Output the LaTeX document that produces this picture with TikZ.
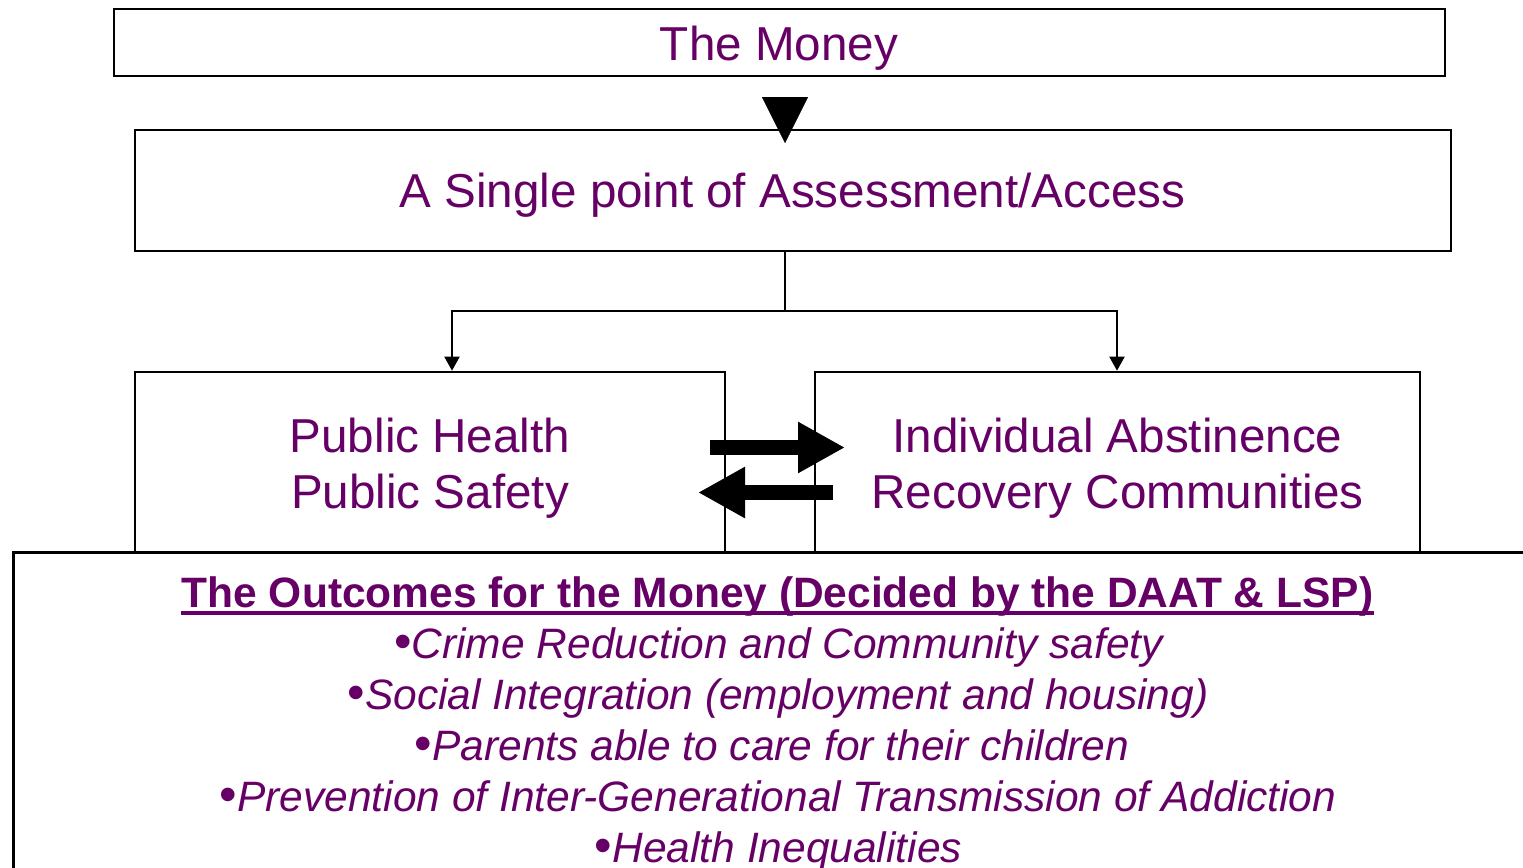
\documentclass[tikz,border=0pt]{standalone}
\usepackage{fontspec}
\setmainfont{Liberation Sans}
\usetikzlibrary{arrows.meta}
\definecolor{plum}{HTML}{660066}
\newcommand{\bul}{{\upshape\fontsize{25}{25.5}\selectfont •}}
\tikzset{
  box/.style={draw=black, line width=1.3pt, fill=white, rectangle, inner sep=0pt},
  bigtxt/.style={text=plum, inner sep=0pt, anchor=base, font=\fontsize{23.8}{28.5}\selectfont},
  outtxt/.style={text=plum, inner sep=0pt, anchor=base, font=\fontsize{21.25}{25.5}\selectfont\itshape},
  conn/.style={draw=black, line width=1pt, -{Triangle[length=7pt,width=7.5pt]}},
  blockarrow/.style={draw=black, line width=7.5pt, -{Triangle[length=23.5pt,width=24pt]}},
}
\begin{document}
\begin{tikzpicture}[x=0.5pt,y=-0.5pt]
\useasboundingbox (0,0) rectangle (1523,868);
\clip (0,0) rectangle (1523,868);
\fill[white] (0,0) rectangle (1523,868);

% boxes
\node[box, minimum width=665.5pt, minimum height=33.5pt] (money) at (779.5,42.5) {};
\node[box, minimum width=658pt, minimum height=60.5pt] (access) at (793,190.5) {};
\node[box, minimum width=295pt, minimum height=90pt] (left) at (430,462) {};
\node[box, minimum width=302.5pt, minimum height=90pt] (right) at (1117.5,462) {};

% texts in upper boxes
\node[bigtxt] (tmoney) at (779,60) {The Money};
\node[bigtxt] (taccess) at (792.5,207) {A Single point of Assessment/Access};
\node[bigtxt] (tph) at (430,452) {Public Health};
\node[bigtxt] (tps) at (430,508) {Public Safety};
\node[bigtxt] (tia) at (1117.5,452) {Individual Abstinence};
\node[bigtxt] (trc) at (1117.5,508) {Recovery Communities};

% big triangle arrow from The Money to the access box
\coordinate (tip) at (785,143);
\draw[draw=black, line width=0.1pt, -{Triangle[length=23pt,width=23pt]}, shorten <=10.5pt]
  (money.south -| tip) -- (tip);

% split connector
\coordinate (split) at (785,311);
\draw[line width=1pt] (access.south -| split) -- (split);
\draw[conn] (split) -| (left.north -| 452,0);
\draw[conn] (split) -| (right.north -| 1117,0);

% block arrows between the two boxes
\coordinate (ra0) at (710,447.5);
\coordinate (ra1) at (845,447.5);
\coordinate (la0) at (833,492.5);
\coordinate (la1) at (698,492.5);
\draw[blockarrow] (ra0) -- (ra1);
\draw[blockarrow] (la0) -- (la1);

% outcomes box
\node[box, line width=1.5pt, minimum width=763.5pt, minimum height=169pt] (outcomes) at (776.5,721) {};
\node[text=plum, inner sep=0pt, anchor=base, font=\fontsize{21.25}{25.5}\selectfont\bfseries] (title) at (777.5,607)
  {The Outcomes for the Money (Decided by the DAAT \& LSP)};
\draw[plum, line width=2pt] ([yshift=-3pt]title.base west) -- ([yshift=-3pt]title.base east);
\node[outtxt] (o1) at (778.5,658) {\bul Crime Reduction and Community safety};
\node[outtxt] (o2) at (778,709) {\bul Social Integration (employment and housing)};
\node[outtxt] (o3) at (772,760) {\bul Parents able to care for their children};
\node[outtxt] (o4) at (778,811) {\bul Prevention of Inter-Generational Transmission of Addiction};
\node[outtxt] (o5) at (778.5,862) {\bul Health Inequalities};
\end{tikzpicture}
\end{document}
